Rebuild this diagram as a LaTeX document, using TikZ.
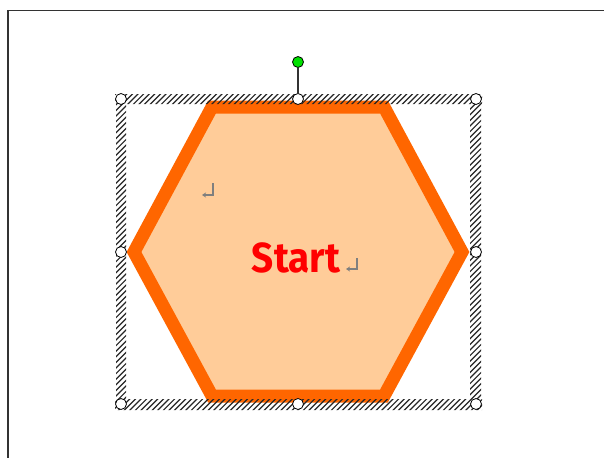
\documentclass[tikz,border=0pt]{standalone}
\usepackage{fontspec}
\newfontfamily\startfont{Fira Sans}
\usetikzlibrary{arrows.meta}
\definecolor{hexline}{HTML}{FF6600}
\definecolor{hexfill}{HTML}{FFCC99}
\definecolor{markgray}{HTML}{7F7F7F}
\definecolor{rotgreen}{HTML}{00E000}
\tikzset{
  handle/.style={circle, draw=black, line width=0.8pt, fill=white, inner sep=0pt, minimum size=11pt},
  rothandle/.style={circle, draw=black, line width=0.8pt, fill=rotgreen, inner sep=0pt, minimum size=11pt},
  hexshape/.style={draw=hexline, fill=hexfill, line width=13pt, line join=miter},
  hatch/.style={black!85, line width=1.2pt},
  parmark/.style={markgray, line width=1.3pt, -{Stealth[length=4pt,width=5pt]}},
}
\begin{document}
\begin{tikzpicture}[x=1pt,y=-1pt]
\useasboundingbox (0,0) rectangle (604,458);
% page border
\draw[line width=1.6pt, black!80] (604,10.5) -- (8,10.5) -- (8,458);
% hexagon
\draw[hexshape] (134,252) -- (212,107) -- (384,107) -- (462,252) -- (384,396) -- (212,396) -- cycle;
% hatched selection frame
\begin{scope}
  \clip (115,94) rectangle (482,104)
        (115,399) rectangle (482,410)
        (116,94) rectangle (126,410)
        (470,94) rectangle (481,410);
  \foreach \i in {0,5.6,...,820} {
    \draw[hatch] (\i+40,80) -- ++(-360,360);
  }
\end{scope}
% handles
\node[rothandle] (rot) at (298,62) {};
\node[handle] (htl) at (121,99) {};
\node[handle] (htm) at (298,99) {};
\node[handle] (htr) at (476,99) {};
\node[handle] (hml) at (121,252) {};
\node[handle] (hmr) at (476,252) {};
\node[handle] (hbl) at (121,404) {};
\node[handle] (hbm) at (298,404) {};
\node[handle] (hbr) at (476,404) {};
\draw[line width=1.2pt, black!80] (rot) -- (htm);
% text
\node[text=red, font=\startfont\bfseries\fontsize{42}{44}\selectfont, inner sep=0pt] (start) at (296,258) {\scalebox{0.92}[1]{Start}};
% paragraph marks
\coordinate (m1a) at (213,183);
\coordinate (m1b) at (213,195);
\coordinate (m1c) at (202,195);
\draw[parmark] (m1a) -- (m1b) -- (m1c);
\coordinate (m2a) at (357,258);
\coordinate (m2b) at (357,269);
\coordinate (m2c) at (346,269);
\draw[parmark] (m2a) -- (m2b) -- (m2c);
\end{tikzpicture}
\end{document}
